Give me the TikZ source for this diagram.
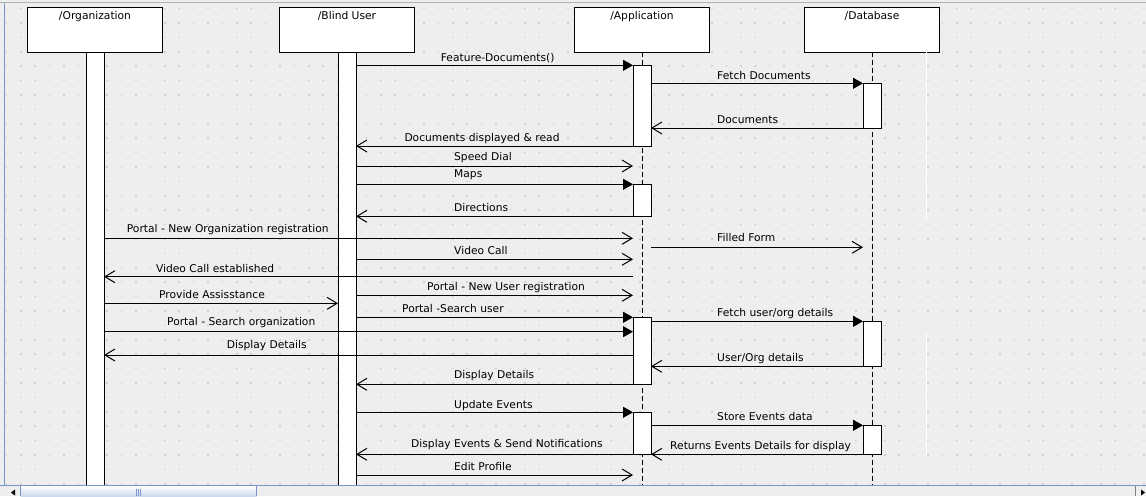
\documentclass[tikz,border=0pt]{standalone}
\usepackage{fontspec}
\setmainfont{DejaVu Sans}
\usepackage{tikz}
\usetikzlibrary{arrows.meta}
\definecolor{canvasgray}{HTML}{EEEEEE}
\definecolor{dotgray}{HTML}{D0D0D0}
\definecolor{scrollblue}{HTML}{7A96C8}
\definecolor{thumbblue}{HTML}{CCDAEE}
\tikzset{
    objnode/.style={
        rectangle,
        draw=black, % 边框为黑色
        fill=white,
        line width=1pt,
        minimum width=135pt,
        minimum height=45pt,
        inner sep=0,
        outer sep=0
    },
    barnode/.style={
        rectangle,
        draw=black,
        fill=white, % 白色竖条
        line width=1pt,
        minimum width=18pt,
        inner sep=0,
        outer sep=0,
        anchor=north
    },
    namenode/.style={
        anchor=base,
        inner sep=0,
        font=\fontsize{10.7}{12}\selectfont
    },
    msglabel/.style={
        anchor=base west,
        inner sep=0,
        font=\fontsize{10.7}{12}\selectfont
    },
    callarrow/.style={
        line width=1pt,
        -{Triangle[length=10pt,width=11pt]} % 实心箭头
    },
    openarrow/.style={
        line width=1pt,
        -{Straight Barb[length=10pt,width=12pt]} % 开口箭头
    },
    lifeline/.style={
        line width=1pt,
        dash pattern=on 5pt off 3pt
    }
}

\begin{document}
\begin{tikzpicture}[x=1pt, y=-1pt]
    \useasboundingbox (0,0) rectangle (1146,496);
    % 背景与网格点
    \fill[canvasgray] (0,0) rectangle (1146,496);
    \foreach \i in {0,...,79} {
        \foreach \j in {0,...,33} {
            \fill[dotgray] ({5.6+14.4*\i},{7.7+14.4*\j}) rectangle ++(1.6,1.6);
        }
    }
    \draw[gray!60, line width=1pt] (0,2) -- (1146,2);
    \draw[scrollblue, line width=1.2pt] (4.6,2.5) -- (4.6,485);

    % 对象
    \node[objnode] (org) at (95,29.7) {};
    \node[objnode] (blind) at (347,29.7) {};
    \node[objnode] (app) at (642,29.7) {};
    \node[objnode] (db) at (872,29.7) {};
    \node[namenode] (orgname) at (org.north |- 0,19) {/Organization};
    \node[namenode] (blindname) at (blind.north |- 0,19) {/Blind User};
    \node[namenode] (appname) at (app.north |- 0,19) {/Application};
    \node[namenode] (dbname) at (db.north |- 0,19) {/Database};

    % 生命线
    \node[barnode, minimum height=440pt] (orgbar) at (org.south) {};
    \node[barnode, minimum height=440pt] (blindbar) at (blind.south) {};
    \draw[lifeline] (app.south) -- (app.south |- 0,490);
    \draw[lifeline] (db.south) -- (db.south |- 0,490);
    \draw[white, line width=1pt] (926.7,52) -- (926.7,220);
    \draw[white, line width=1pt] (926.7,333) -- (926.7,456);

    % 激活条
    \node[barnode, minimum height=80.7pt] (act1) at (app.south |- 0,65.3) {};
    \node[barnode, minimum height=32pt] (act2) at (app.south |- 0,184.3) {};
    \node[barnode, minimum height=67pt] (act3) at (app.south |- 0,317.3) {};
    \node[barnode, minimum height=42pt] (act4) at (app.south |- 0,412.3) {};
    \node[barnode, minimum height=44.7pt] (dbact1) at (db.south |- 0,83.3) {};
    \node[barnode, minimum height=45pt] (dbact2) at (db.south |- 0,321.3) {};
    \node[barnode, minimum height=29pt] (dbact3) at (db.south |- 0,425.3) {};

    % 消息
    \draw[callarrow] (blindbar.east |- act1.north) -- (act1.north west);
    \node[msglabel] (m1) at (440.7,61.5) {Feature-Documents()};
    \draw[callarrow] (act1.east |- dbact1.north) -- (dbact1.north west);
    \node[msglabel] (m2) at (717,79) {Fetch Documents};
    \draw[openarrow] (dbact1.south west) -- (act1.east |- dbact1.south);
    \node[msglabel] (m3) at (717,123.3) {Documents};
    \draw[openarrow] (act1.south west) -- (blindbar.east |- act1.south);
    \node[msglabel] (m4) at (404.3,141.7) {Documents displayed \& read};
    \draw[openarrow] (blindbar.east |- 0,166) -- (act1.west |- 0,166);
    \node[msglabel] (m5) at (454,160.7) {Speed Dial};
    \draw[callarrow] (blindbar.east |- act2.north) -- (act2.north west);
    \node[msglabel] (m6) at (454,177.3) {Maps};
    \draw[openarrow] (act2.south west) -- (blindbar.east |- act2.south);
    \node[msglabel] (m7) at (454,211.7) {Directions};
    \draw[openarrow] (orgbar.east |- 0,238.3) -- (act1.west |- 0,238.3);
    \node[msglabel] (m8) at (126.7,232) {Portal - New Organization registration};
    \draw[openarrow] (act1.east |- 0,247.3) -- (dbact1.west |- 0,247.3);
    \node[msglabel] (m9) at (717,241.7) {Filled Form};
    \draw[openarrow] (blindbar.east |- 0,259.3) -- (act1.west |- 0,259.3);
    \node[msglabel] (m10) at (454,254) {Video Call};
    \draw[openarrow] (act1.west |- 0,276.7) -- (orgbar.east |- 0,276.7);
    \node[msglabel] (m11) at (155.8,272.3) {Video Call established};
    \draw[openarrow] (blindbar.east |- 0,295.3) -- (act1.west |- 0,295.3);
    \node[msglabel] (m12) at (427,290.7) {Portal - New User registration};
    \draw[openarrow] (orgbar.east |- 0,303.3) -- (blindbar.west |- 0,303.3);
    \node[msglabel] (m13) at (159,298.3) {Provide Assisstance};
    \draw[callarrow] (blindbar.east |- act3.north) -- (act3.north west);
    \node[msglabel] (m14) at (402,312.7) {Portal -Search user};
    \draw[callarrow] (orgbar.east |- 0,331.7) -- (act3.west |- 0,331.7);
    \node[msglabel] (m15) at (167,325) {Portal - Search organization};
    \draw[callarrow] (act3.east |- dbact2.north) -- (dbact2.north west);
    \node[msglabel] (m16) at (717,316) {Fetch user/org details};
    \draw[openarrow] (act3.west |- 0,355) -- (orgbar.east |- 0,355);
    \node[msglabel] (m17) at (226.6,348.3) {Display Details};
    \draw[openarrow] (dbact2.south west) -- (act3.east |- dbact2.south);
    \node[msglabel] (m18) at (717,361) {User/Org details};
    \draw[openarrow] (act3.south west) -- (blindbar.east |- act3.south);
    \node[msglabel] (m19) at (454,378.3) {Display Details};
    \draw[callarrow] (blindbar.east |- act4.north) -- (act4.north west);
    \node[msglabel] (m20) at (454,408) {Update Events};
    \draw[callarrow] (act4.east |- dbact3.north) -- (dbact3.north west);
    \node[msglabel] (m21) at (717,420.7) {Store Events data};
    \draw[openarrow] (act4.south west) -- (blindbar.east |- act4.south);
    \node[msglabel] (m22) at (411,447.7) {Display Events \& Send Notifications};
    \draw[openarrow] (dbact3.south west) -- (act4.east |- dbact3.south);
    \node[msglabel] (m23) at (670,449) {Returns Events Details for display};
    \draw[openarrow] (blindbar.east |- 0,475) -- (act1.west |- 0,475);
    \node[msglabel] (m24) at (454,470) {Edit Profile};

    % 滚动条
    \fill[canvasgray] (0,484.5) rectangle (1146,496);
    \draw[scrollblue, line width=1pt] (0,485) -- (1146,485);
    \shade[top color=white, bottom color=thumbblue] (20.7,485.5) rectangle (256.7,496);
    \draw[scrollblue, line width=1pt] (20.7,496) -- (20.7,485.5) -- (256.7,485.5) -- (256.7,496);
    \foreach \k in {136.7,138.3,140} {
        \draw[scrollblue, line width=0.6pt] (\k,489.3) -- (\k,496);
    }
    \fill[black] (15,489.5) -- (11,492.5) -- (15,495.5) -- cycle;
    \draw[gray, line width=0.8pt] (1135.5,486) -- (1135.5,496);
    \fill[black] (1141,489.5) -- (1145,492.5) -- (1141,495.5) -- cycle;
\end{tikzpicture}
\end{document}
